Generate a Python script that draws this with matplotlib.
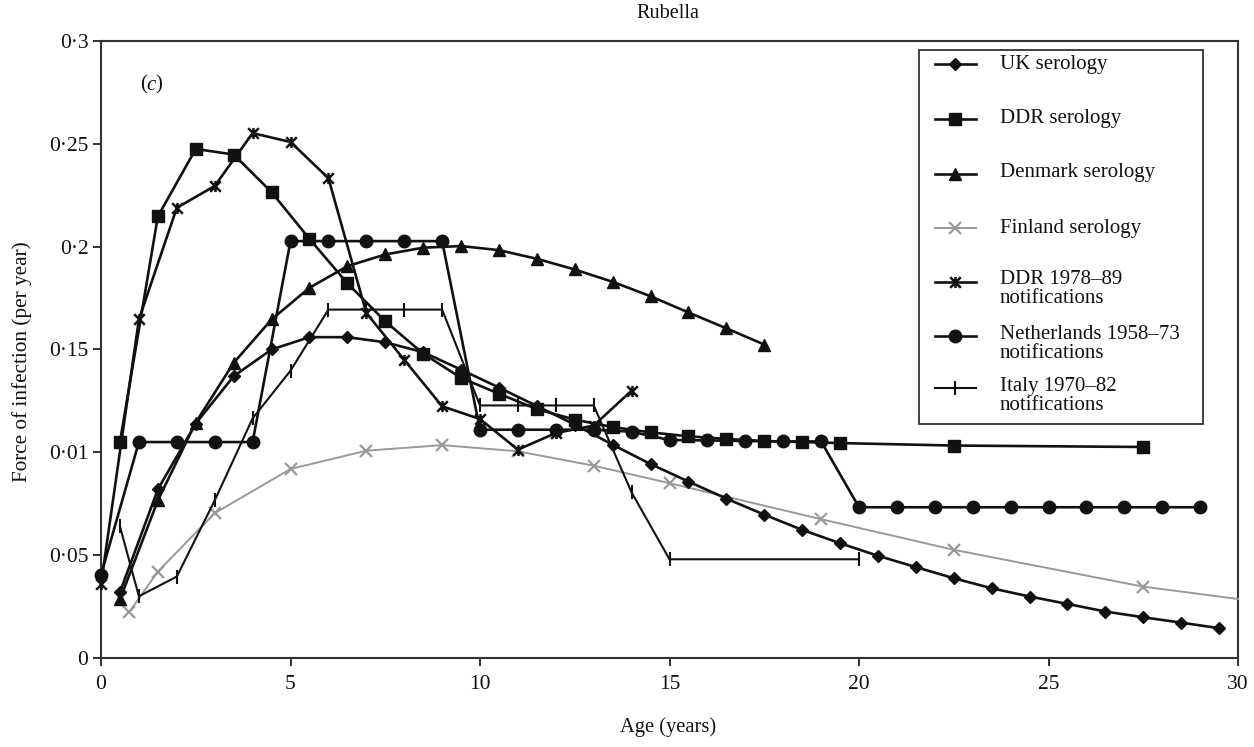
import matplotlib
matplotlib.use("Agg")
import matplotlib.pyplot as plt
from matplotlib.lines import Line2D
from matplotlib.patches import Rectangle
from matplotlib.path import Path

plt.rcParams['font.family'] = ['Liberation Serif', 'DejaVu Serif']

# ---------------- data ----------------
uk_age = [0.5, 1.5, 2.5, 3.5, 4.5, 5.5, 6.5, 7.5, 8.5, 9.5, 10.5, 11.5, 12.5, 13.5, 14.5,
          15.5, 16.5, 17.5, 18.5, 19.5, 20.5, 21.5, 22.5, 23.5, 24.5, 25.5, 26.5, 27.5, 28.5, 29.5]
uk_val = [0.032, 0.082, 0.114, 0.137, 0.150, 0.156, 0.156, 0.1535, 0.1487, 0.1402, 0.1315, 0.1225,
          0.1135, 0.1037, 0.0943, 0.0858, 0.0775, 0.0697, 0.0623, 0.0558, 0.0497, 0.0442, 0.0388,
          0.0339, 0.0299, 0.0263, 0.0226, 0.0198, 0.0172, 0.0145]

ddr_age = [0.5, 1.5, 2.5, 3.5, 4.5, 5.5, 6.5, 7.5, 8.5, 9.5, 10.5, 11.5, 12.5, 13.5, 14.5,
           15.5, 16.5, 17.5, 18.5, 19.5, 22.5, 27.5]
ddr_val = [0.105, 0.2147, 0.2475, 0.2448, 0.2265, 0.2038, 0.1822, 0.1637, 0.148, 0.1362, 0.1285,
           0.121, 0.1159, 0.1123, 0.1097, 0.1078, 0.1065, 0.1055, 0.105, 0.1045, 0.1033, 0.1026]

den_age = [0.5, 1.5, 2.5, 3.5, 4.5, 5.5, 6.5, 7.5, 8.5, 9.5, 10.5, 11.5, 12.5, 13.5, 14.5,
           15.5, 16.5, 17.5]
den_val = [0.0285, 0.0766, 0.1145, 0.1435, 0.1646, 0.180, 0.1905, 0.1962, 0.1995, 0.2003, 0.1983,
           0.1941, 0.1889, 0.1829, 0.1759, 0.168, 0.1603, 0.1524]

fin_age = [0.75, 1.5, 3, 5, 7, 9, 11, 13, 15, 19, 22.5, 27.5, 30]
fin_val = [0.0225, 0.042, 0.0704, 0.0919, 0.1008, 0.1035, 0.1005, 0.0935, 0.085, 0.0675, 0.0526,
           0.0347, 0.0287]

ddrn_age = [0, 1, 2, 3, 4, 5, 6, 7, 8, 9, 10, 11, 12, 13, 14]
ddrn_val = [0.036, 0.1646, 0.2189, 0.2295, 0.2552, 0.2509, 0.2333, 0.1678, 0.145, 0.1224, 0.1162,
            0.1013, 0.1094, 0.113, 0.130]

ned_age = [0, 1, 2, 3, 4, 5, 6, 7, 8, 9, 10, 11, 12, 13, 14, 15, 16, 17, 18, 19,
           20, 21, 22, 23, 24, 25, 26, 27, 28, 29]
ned_val = [0.0404, 0.105, 0.105, 0.105, 0.105, 0.2027, 0.2027, 0.2027, 0.2027, 0.2027,
           0.111, 0.111, 0.111, 0.111, 0.110, 0.106, 0.1058, 0.1055, 0.1053, 0.1053,
           0.0733, 0.0733, 0.0733, 0.0733, 0.0733, 0.0733, 0.0733, 0.0733, 0.0733, 0.0733]

ita_age = [0.5, 1, 2, 3, 4, 5, 6, 7, 8, 9, 10, 11, 12, 13, 14, 15, 20]
ita_val = [0.064, 0.030, 0.0396, 0.0766, 0.1165, 0.1397, 0.1694, 0.1694, 0.1694, 0.1694,
           0.1228, 0.1228, 0.1228, 0.1228, 0.0805, 0.048, 0.048]

x_ticks = [0, 5, 10, 15, 20, 25, 30]
x_ticklabels = ['0', '5', '10', '15', '20', '25', '30']
y_ticks = [0, 0.05, 0.1, 0.15, 0.2, 0.25, 0.3]
y_ticklabels = ['0', '0·05', '0·01', '0·15', '0·2', '0·25', '0·3']

labels = ['UK serology', 'DDR serology', 'Denmark serology', 'Finland serology',
          'DDR 1978–89\nnotifications', 'Netherlands 1958–73\nnotifications',
          'Italy 1970–82\nnotifications']

# ---------------- style ----------------
star = Path([(-1, -1), (1, 1), (-1, 1), (1, -1), (0, -1.05), (0, 1.05)],
            [Path.MOVETO, Path.LINETO, Path.MOVETO, Path.LINETO, Path.MOVETO, Path.LINETO])

BLACK = '#111111'
GREY = '#999999'
styles = [
    dict(color=BLACK, lw=1.9, marker='D', ms=6.2, mfc=BLACK, mec=BLACK),
    dict(color=BLACK, lw=1.9, marker='s', ms=9, mfc=BLACK, mec=BLACK),
    dict(color=BLACK, lw=1.9, marker='^', ms=9, mfc=BLACK, mec=BLACK),
    dict(color=GREY, lw=1.4, marker='x', ms=8.5, mew=1.6, mec=GREY),
    dict(color=BLACK, lw=1.9, marker=star, ms=8, mew=1.8, mec=BLACK),
    dict(color=BLACK, lw=1.9, marker='o', ms=9, mfc=BLACK, mec=BLACK),
    dict(color=BLACK, lw=1.5, marker='|', ms=9.5, mew=1.5, mec=BLACK),
]

W, H = 1254, 747
fig = plt.figure(figsize=(W / 100, H / 100), dpi=100)
fig.patch.set_facecolor('white')
ax = fig.add_axes([101 / W, 1 - 658 / H, 1137 / W, 617 / H])

series = [(uk_age, uk_val), (ddr_age, ddr_val), (den_age, den_val), (fin_age, fin_val),
          (ddrn_age, ddrn_val), (ned_age, ned_val), (ita_age, ita_val)]
for i, ((xs, ys), st) in enumerate(zip(series, styles)):
    kw = dict(st)
    if i == 3:
        kw['markevery'] = list(range(len(xs) - 1))
    ax.plot(xs, ys, clip_on=False, zorder=3 + (1 if i != 3 else 0), **kw)

ax.set_xlim(0, 30)
ax.set_ylim(0, 0.3)
ax.set_xticks(x_ticks)
ax.set_xticklabels(x_ticklabels)
ax.set_yticks(y_ticks)
ax.set_yticklabels(y_ticklabels)
for s in ax.spines.values():
    s.set_linewidth(1.5)
    s.set_color('#333333')
ax.tick_params(axis='both', direction='out', length=6, width=1.4, color='#333333',
               labelsize=15.5, labelcolor='#111111')
ax.tick_params(axis='x', pad=6)
ax.tick_params(axis='y', pad=3)

fig.text(140 / W, 1 - 85 / H, '(', fontsize=15, va='center', ha='left', color='#111111')
fig.text(146 / W, 1 - 85 / H, 'c', fontsize=15, va='center', ha='left', style='italic', color='#111111')
fig.text(155 / W, 1 - 85 / H, ')', fontsize=15, va='center', ha='left', color='#111111')

fig.text(668 / W, 1 - 13 / H, 'Rubella', fontsize=14.5, ha='center', va='center', color='#111111')
fig.text(668 / W, 1 - 727 / H, 'Age (years)', fontsize=14.8, ha='center', va='center', color='#111111')
fig.text(22 / W, 1 - 362 / H, 'Force of infection (per year)', fontsize=15.3, ha='center', va='center',
         rotation=90, color='#111111')

# ---------------- legend (drawn manually) ----------------
def fx(x):
    return x / W

def fy(y):
    return 1 - y / H

fig.add_artist(Rectangle((fx(919), fy(424)), fx(1203) - fx(919), fy(50) - fy(424),
                         transform=fig.transFigure, fill=True, facecolor='white',
                         edgecolor='#333333', lw=1.3, zorder=10))
handle_y = [64, 119, 174, 228, 282, 336, 388]
text_y = [64, 118, 172, 228, 289, 344, 396]
for lab, st, hy, ty in zip(labels, styles, handle_y, text_y):
    kw = dict(st)
    ln = Line2D([fx(935), fx(955), fx(976)], [fy(hy)] * 3, transform=fig.transFigure,
                markevery=[1], zorder=11, **kw)
    fig.add_artist(ln)
    fig.text(fx(1000), fy(ty), lab, fontsize=15, ha='left', va='center', color='#111111',
             linespacing=0.95, zorder=12)

fig.savefig('out.png', dpi=100, facecolor='white')
